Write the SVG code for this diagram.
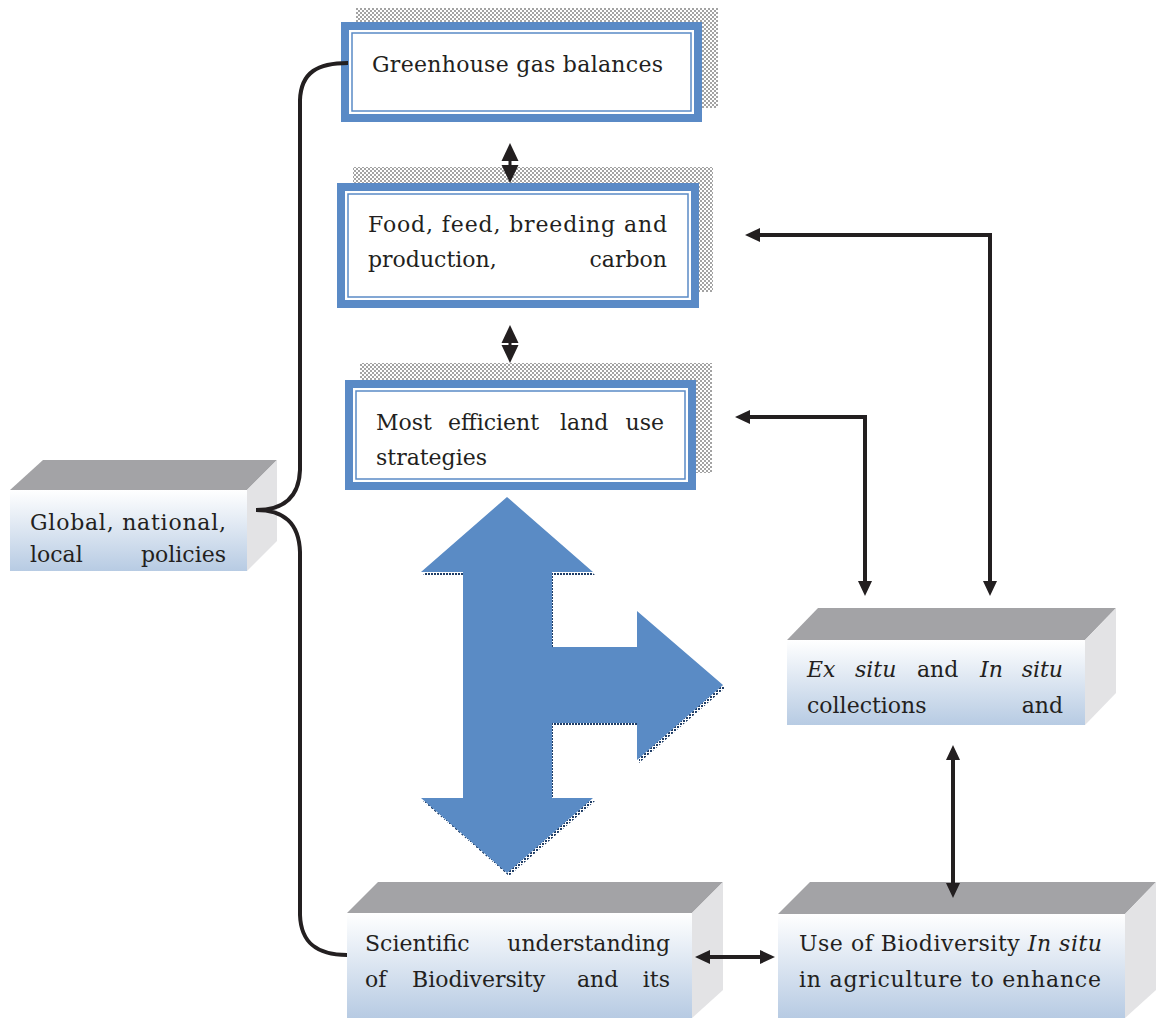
<svg xmlns="http://www.w3.org/2000/svg" width="1158" height="1018" viewBox="0 0 1158 1018">
<defs>
<pattern id="chk" width="4" height="4" patternUnits="userSpaceOnUse">
<rect width="4" height="4" fill="#ffffff"/>
<rect width="2" height="2" fill="#a3a3a3"/>
<rect x="2" y="2" width="2" height="2" fill="#a3a3a3"/>
</pattern>
<pattern id="chkd" width="3" height="3" patternUnits="userSpaceOnUse">
<rect width="3" height="3" fill="#ffffff"/>
<rect width="2" height="2" fill="#1f3d66"/>
</pattern>
<linearGradient id="front" x1="0" y1="0" x2="0" y2="1">
<stop offset="0" stop-color="#ffffff"/>
<stop offset="1" stop-color="#b7cbe3"/>
</linearGradient>
<marker id="ah" markerUnits="userSpaceOnUse" markerWidth="16" markerHeight="16" refX="0" refY="7" orient="auto-start-reverse" viewBox="0 0 16 14">
<path d="M0,0 L15,7 L0,14 z" fill="#231f20"/>
</marker>
<marker id="ahs" markerUnits="userSpaceOnUse" markerWidth="19" markerHeight="18" refX="0" refY="8.5" orient="auto-start-reverse" viewBox="0 0 19 17">
<path d="M0,0 L18,8.5 L0,17 z" fill="#231f20"/>
</marker>
<style>
.t{font-family:"DejaVu Serif","Liberation Serif",serif;font-size:22px;fill:#231f20}
.i{font-style:italic}
.outer{fill:#5a8ac6}
.inner{fill:#ffffff}
.thin{fill:none;stroke:#5a8ac6;stroke-width:1.5}
.shadow{fill:url(#chk)}
.top{fill:#a3a3a6}
.side{fill:#e3e3e5}
.fr{fill:url(#front)}
.ln{fill:none;stroke:#231f20;stroke-width:4}
.sh{fill:none;stroke:#231f20;stroke-width:3}
</style>
</defs>
<rect width="1158" height="1018" fill="#ffffff"/>

<g id="node-greenhouse">
<rect class="shadow" x="356" y="8" width="362" height="100"/>
<rect class="outer" x="341" y="22" width="361" height="100"/>
<rect class="inner" x="349" y="30" width="345" height="84"/>
<rect class="thin" x="352" y="33" width="339" height="78"/>
<text class="t" x="372" y="72" textLength="291" lengthAdjust="spacing">Greenhouse gas balances</text>
</g>

<g id="node-food">
<rect class="shadow" x="353" y="167" width="360" height="125"/>
<rect class="outer" x="337" y="183" width="362" height="125"/>
<rect class="inner" x="345" y="191" width="346" height="109"/>
<rect class="thin" x="348" y="194" width="340" height="103"/>
<text class="t" x="368" y="232" textLength="299" lengthAdjust="spacing">Food, feed, breeding and</text>
<text class="t" x="368" y="267">production,</text>
<text class="t" x="667" y="267" text-anchor="end">carbon</text>
</g>

<g id="node-landuse">
<rect class="shadow" x="360" y="363" width="352" height="110"/>
<rect class="outer" x="345" y="380" width="351" height="110"/>
<rect class="inner" x="353" y="388" width="335" height="94"/>
<rect class="thin" x="356" y="391" width="329" height="88"/>
<text class="t" x="376" y="430">Most</text>
<text class="t" x="448" y="430">efficient</text>
<text class="t" x="560" y="430">land</text>
<text class="t" x="664" y="430" text-anchor="end">use</text>
<text class="t" x="376" y="465">strategies</text>
</g>

<g id="node-policies">
<polygon class="top" points="10,490 43,460 277,460 247,490"/>
<polygon class="side" points="247,490 277,460 277,541 247,571"/>
<rect class="fr" x="10" y="490" width="237" height="81"/>
<text class="t" x="30" y="530" textLength="196" lengthAdjust="spacing">Global, national,</text>
<text class="t" x="30" y="562">local</text>
<text class="t" x="226" y="562" text-anchor="end">policies</text>
</g>

<g id="node-exsitu">
<polygon class="top" points="787,640 818,608 1116,608 1085,640"/>
<polygon class="side" points="1085,640 1116,608 1116,693 1085,725"/>
<rect class="fr" x="787" y="640" width="298" height="85"/>
<text class="t i" x="807" y="677">Ex</text>
<text class="t i" x="855" y="677">situ</text>
<text class="t" x="917" y="677">and</text>
<text class="t i" x="980" y="677">In</text>
<text class="t i" x="1063" y="677" text-anchor="end">situ</text>
<text class="t" x="807" y="713">collections</text>
<text class="t" x="1063" y="713" text-anchor="end">and</text>
</g>

<g id="node-scientific">
<polygon class="top" points="347,913 378,882 723,882 692,913"/>
<polygon class="side" points="692,913 723,882 723,990 692,1018"/>
<rect class="fr" x="347" y="913" width="345" height="105"/>
<text class="t" x="365" y="951">Scientific</text>
<text class="t" x="670" y="951" text-anchor="end">understanding</text>
<text class="t" x="365" y="987">of</text>
<text class="t" x="412" y="987">Biodiversity</text>
<text class="t" x="577" y="987">and</text>
<text class="t" x="670" y="987" text-anchor="end">its</text>
</g>

<g id="node-use">
<polygon class="top" points="778,914 810,882 1156,882 1125,914"/>
<polygon class="side" points="1125,914 1156,882 1156,990 1125,1018"/>
<rect class="fr" x="778" y="914" width="347" height="104"/>
<text class="t" x="799" y="951" textLength="303" lengthAdjust="spacing">Use of Biodiversity <tspan class="i">In situ</tspan></text>
<text class="t" x="799" y="987" textLength="302" lengthAdjust="spacing">in agriculture to enhance</text>
</g>

<g id="big-arrow">
<polygon fill="url(#chkd)" transform="translate(2,3)" points="507,497 593,572 552,572 552,647 637,647 637,611 723,685 637,760 637,723 552,723 552,798 593,798 507,873 421,798 463,798 463,572 421,572"/>
<polygon fill="#5a8bc5" points="507,497 593,572 552,572 552,647 637,647 637,611 723,685 637,760 637,723 552,723 552,798 593,798 507,873 421,798 463,798 463,572 421,572"/>
</g>

<g id="connectors">
<path class="ln" d="M348,63 C318,63 301,72 300,100 L300,470 C299,498 283,510 256,510 C283,510 299,522 300,552 L300,915 C301,944 318,955 347,955"/>
<path class="sh" d="M510,161 V165" marker-start="url(#ahs)" marker-end="url(#ahs)"/>
<path class="sh" d="M510,343 V345" marker-start="url(#ahs)" marker-end="url(#ahs)"/>
<path class="ln" d="M760,235 H990 V581" marker-start="url(#ah)" marker-end="url(#ah)"/>
<path class="ln" d="M750,417 H865 V581" marker-start="url(#ah)" marker-end="url(#ah)"/>
<path class="ln" d="M710,957 H760" marker-start="url(#ah)" marker-end="url(#ah)"/>
<path class="ln" d="M953,760 V883" marker-start="url(#ah)" marker-end="url(#ah)"/>
</g>
</svg>
